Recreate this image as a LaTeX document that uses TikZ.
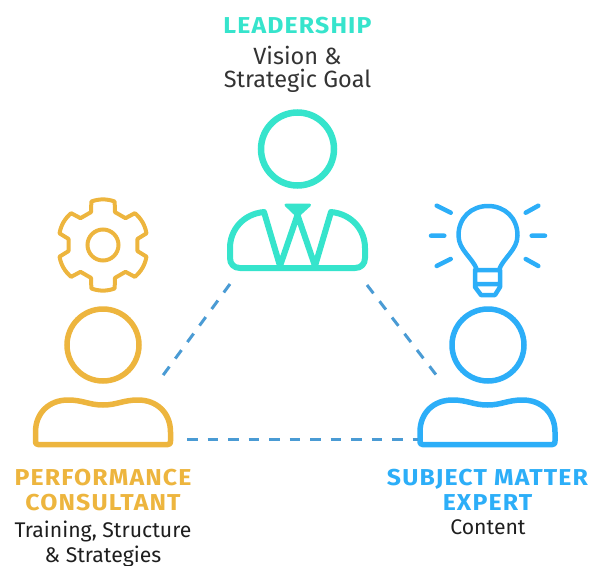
\documentclass[tikz,border=0pt]{standalone}
\usepackage{fontspec}
\setmainfont{Fira Sans}
\newfontfamily\headbold[FakeStretch=1.08,LetterSpace=5]{Fira Sans Bold}
\definecolor{teal}{HTML}{36E4CC}
\definecolor{gold}{HTML}{EDB53E}
\definecolor{sky}{HTML}{2CAEF8}
\definecolor{dash}{HTML}{4A9BD4}
\definecolor{ink}{HTML}{333333}
\definecolor{inkb}{HTML}{1E1E1E}
\tikzset{
  head/.style={font=\headbold\fontsize{23}{24.5}\selectfont, align=center, inner sep=0pt},
  subtop/.style={font=\fontsize{23.5}{23}\selectfont, text=ink, align=center, inner sep=0pt},
  subbot/.style={font=\fontsize{21.2}{25}\selectfont, text=inkb, align=center, inner sep=0pt},
  link/.style={draw=dash, line width=3pt, dash pattern=on 10.5pt off 10pt}
}
\newcommand{\bodyshape}[2]{%
  \draw[line width=5.5pt, line join=round, #2, shift={(#1,0)}]
    (-65,444.5) .. controls (-67.5,444.5) and (-67.5,443) .. (-67.5,441) -- (-67.5,432)
    .. controls (-67.5,413) and (-54,400) .. (-35,400)
    .. controls (-20,400) and (-14,405) .. (0,405)
    .. controls (14,405) and (20,400) .. (35,400)
    .. controls (54,400) and (67.5,413) .. (67.5,432) -- (67.5,441)
    .. controls (67.5,443) and (67.5,444.5) .. (65,444.5) -- cycle;}
\begin{document}
\begin{tikzpicture}[x=1pt,y=-1pt]
\useasboundingbox (0,0) rectangle (605,565);
% texts
\node[head,text=teal] (t1) at (297.5,26) {LEADERSHIP};
\node[subtop] (t2) at (297.5,69) {Vision \&\\Strategic Goal};
\node[head,text=gold] (t3) at (103,490) {PERFORMANCE\\CONSULTANT};
\node[subbot] (t4) at (103,544) {Training, Structure\\\& Strategies};
\node[head,text=sky] (t5) at (487.5,490) {SUBJECT MATTER\\EXPERT};
\node[subbot] (t6) at (488,527) {Content};
% leadership figure
\node[draw=teal, line width=6.5pt, circle, minimum size=73pt, inner sep=0pt] (lead) at (297.5,149) {};
\draw[teal, line width=6pt, line join=round]
  (264,212) .. controls (243,214) and (230,230) .. (230,248) -- (230,258)
  .. controls (230,264) and (234,268) .. (240,268) -- (355,268)
  .. controls (361,268) and (365,264) .. (365,258) -- (365,248)
  .. controls (365,230) and (352,214) .. (331,212)
  -- (315,266) -- (297.5,215) -- (280,266) -- cycle;
\fill[teal, draw=teal, line width=3pt, line join=round] (286,205) -- (309.5,205) -- (297.5,216) -- cycle;
% performance figure
\node[draw=gold, line width=5.5pt, circle, minimum size=72pt, inner sep=0pt] (perf) at (103,345) {};
\bodyshape{103}{gold}
\begin{scope}[shift={(103,245)}]
  \node[draw=gold, line width=4pt, circle, minimum size=31pt, inner sep=0pt] (hub) at (0,0) {};
  \draw[gold, line width=4pt, line join=round]
    (110:35)
    \foreach \a in {90,30,-30,-90,-150,-210} {
      -- (\a+20:35) -- (\a+15:45) .. controls (\a+5:46.5) and (\a-5:46.5) .. (\a-15:45) -- (\a-20:35)
      .. controls (\a-30:33.5) .. (\a-40:35)
    } -- cycle;
\end{scope}
% expert figure
\node[draw=sky, line width=5.5pt, circle, minimum size=72pt, inner sep=0pt] (sme) at (488,345) {};
\bodyshape{487.5}{sky}
\draw[sky, line width=4.5pt, line join=round]
  (477,270) .. controls (473,258) and (458.5,250) .. (458.5,235.5)
  .. controls (458.5,218) and (471,206) .. (488,206)
  .. controls (505,206) and (517.5,218) .. (517.5,235.5)
  .. controls (517.5,250) and (503,258) .. (499,270);
\draw[sky, line width=4.5pt, line join=round]
  (475,270) -- (500,270) -- (500,287) -- (495,295) -- (481,295) -- (475,287) -- cycle
  (475,284) -- (500,284);
\draw[sky, line width=4.5pt, line cap=round]
  (436.7,205.7) -- (450.7,212.7)
  (431,235.7) -- (444.3,235.7)
  (436.7,266) -- (450.7,259)
  (538.3,205.7) -- (525.7,212.7)
  (545,235.7) -- (531.7,235.7)
  (538.3,266) -- (525.7,259);
% connectors
\coordinate (a1) at (230,284);
\coordinate (a2) at (162.5,376);
\coordinate (b1) at (367,285);
\coordinate (b2) at (437,376);
\coordinate (c1) at (187,439);
\coordinate (c2) at (418,439);
\draw[link] (a1) -- (a2);
\draw[link] (b1) -- (b2);
\draw[link] (c1) -- (c2);
\end{tikzpicture}
\end{document}
